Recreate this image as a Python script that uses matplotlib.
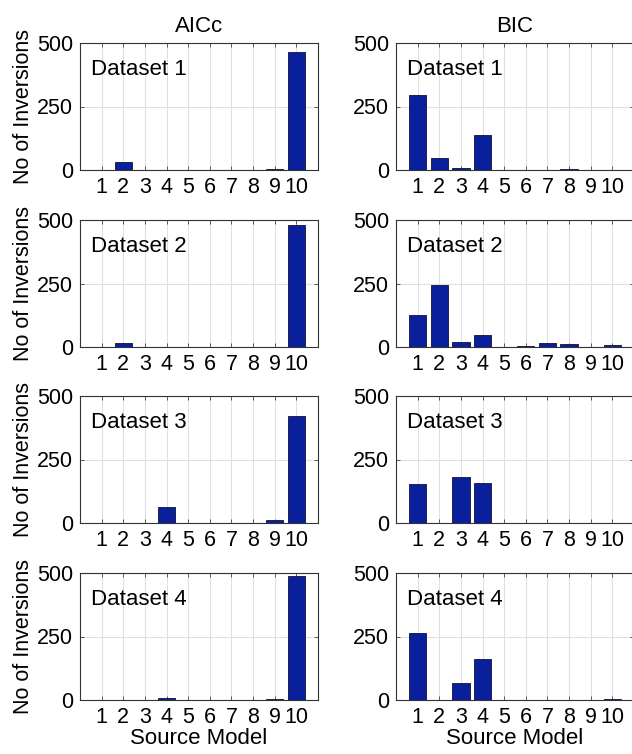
import numpy as np
import matplotlib
matplotlib.use("Agg")
import matplotlib.pyplot as plt

plt.rcParams['font.family'] = ['Liberation Sans', 'DejaVu Sans']

models = [1, 2, 3, 4, 5, 6, 7, 8, 9, 10]
datasets = ['Dataset 1', 'Dataset 2', 'Dataset 3', 'Dataset 4']
criteria = ['AICc', 'BIC']

# counts, one row per dataset
aicc = [
    [0, 30, 0, 0, 0, 0, 0, 0, 2, 463],
    [0, 16, 0, 0, 0, 0, 0, 0, 0, 481],
    [0, 0, 0, 63, 0, 0, 0, 0, 10, 423],
    [0, 0, 0, 8, 0, 0, 0, 0, 2, 489],
]
bic = [
    [297, 46, 7, 137, 0, 0, 0, 3, 0, 0],
    [127, 245, 20, 46, 1, 4, 15, 11, 0, 9],
    [154, 0, 181, 159, 0, 0, 0, 0, 0, 0],
    [264, 0, 67, 160, 0, 0, 0, 0, 0, 2],
]
yticks = [0, 250, 500]

W, H = 632, 754
fig = plt.figure(figsize=(W / 100, H / 100), dpi=100)

lefts = [80, 396]
width = 238
tops = [43, 220, 396, 573]
height = 127

bar_color = '#0a1f9c'

for col, (crit, data) in enumerate(zip(criteria, [aicc, bic])):
    for row in range(4):
        ax = fig.add_axes([lefts[col] / W, 1 - (tops[row] + height) / H,
                           width / W, height / H])
        ax.bar(models, data[row], width=0.8, color=bar_color,
               edgecolor='#111133', linewidth=0.6, zorder=3)
        ax.set_xlim(0, 11)
        ax.set_ylim(0, 500)
        ax.set_xticks(models)
        ax.set_yticks(yticks)
        ax.tick_params(direction='in', length=3, top=True, right=True,
                       labelsize=15.5, pad=5, width=0.6, color='#444444')
        ax.grid(True, linestyle='-', color='#e0e0e0', linewidth=0.8, zorder=0)
        for sp in ax.spines.values():
            sp.set_color('#333333')
            sp.set_linewidth(0.8)
        ax.text(0.045, 0.79, datasets[row], transform=ax.transAxes,
                fontsize=16, va='center', ha='left', zorder=4)
        if row == 0:
            ax.set_title(crit, fontsize=16, pad=8)
        if row == 3:
            ax.set_xlabel('Source Model', fontsize=16, labelpad=0)
        if col == 0:
            ax.set_ylabel('No of Inversions', fontsize=15.5, labelpad=2)

fig.savefig('out.png', dpi=100)
